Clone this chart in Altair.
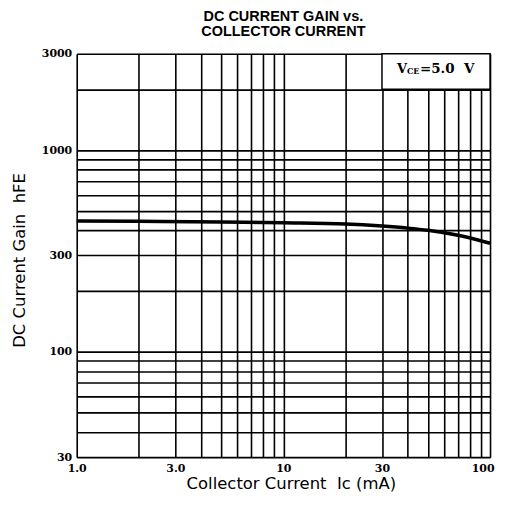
import altair as alt
import pandas as pd

# Curve data
ic_ma = [1.0, 2.0, 5.0, 10.0, 20.0, 30.0, 40.0, 50.0, 70.0, 100.0]
hfe = [445, 443, 440, 436, 430, 420, 410, 400, 378, 345]

# Grid / tick values
x_grid = [1, 2, 3, 4, 5, 6, 7, 8, 9, 10, 20, 30, 40, 50, 60, 70, 80, 90, 100]
y_grid = [30, 40, 50, 60, 70, 80, 90, 100, 200, 300, 400, 500, 600, 700, 800, 900,
          1000, 2000, 3000]
x_label_values = [1, 3, 10, 30, 100]
x_label_texts = ["1.0", "3.0", "10", "30", "100"]
y_label_values = [30, 100, 300, 1000, 3000]
y_label_texts = ["30", "100", "300", "1000", "3000"]

# Annotation box (data coordinates)
box_x = [30]
box_x2 = [100]
box_y = [2000]
box_y2 = [3000]
note_x = [35.5]
note_y = [2530]

NB = "\u00a0"


def label_expr(vals, texts):
    expr = "''"
    for v, t in reversed(list(zip(vals, texts))):
        expr = f"abs(datum.value - {v}) < 1e-6 ? '{t}' : ({expr})"
    return expr


xscale = alt.Scale(type="log", domain=[1, 100], nice=False)
yscale = alt.Scale(type="log", domain=[30, 3000], nice=False)

serif = "DejaVu Serif"
sans = "DejaVu Sans"

x_axis = alt.Axis(
    values=x_grid, labelExpr=label_expr(x_label_values, x_label_texts),
    title=f"Collector Current{NB} Ic (mA)", titleFont=sans, titleFontSize=16.5,
    titleFontWeight="normal", titleColor="black", titlePadding=2, titleX=215,
    labelFont=serif, labelFontWeight="bold", labelFontSize=11, labelColor="black",
    labelPadding=5, ticks=False, domain=False, grid=True, gridColor="black",
    gridWidth=1.6, gridOpacity=1, labelOverlap=False, labelFlush=False,
    labelAlign=alt.ExprRef("datum.value >= 99 ? 'right' : 'center'"),
    labelOffset=alt.ExprRef("datum.value >= 99 ? 4 : 0"),
)
y_axis = alt.Axis(
    values=y_grid, labelExpr=label_expr(y_label_values, y_label_texts),
    title=f"DC Current Gain{NB} hFE", titleFont=sans, titleFontSize=16.5,
    titleFontWeight="normal", titleColor="black", titlePadding=14, titleY=207,
    labelFont=serif, labelFontWeight="bold", labelFontSize=11, labelColor="black",
    labelPadding=5, ticks=False, domain=False, grid=True, gridColor="black",
    gridWidth=1.6, gridOpacity=1, labelOverlap=False, labelFlush=False,
)

curve_df = pd.DataFrame({"ic": ic_ma, "hfe": hfe})
curve = alt.Chart(curve_df).mark_line(
    color="black", strokeWidth=3.5, interpolate="monotone"
).encode(
    x=alt.X("ic:Q", scale=xscale, axis=x_axis),
    y=alt.Y("hfe:Q", scale=yscale, axis=y_axis),
)

box_df = pd.DataFrame({"x": box_x, "x2": box_x2, "y": box_y, "y2": box_y2})
box = alt.Chart(box_df).mark_rect(
    fill="white", stroke="black", strokeWidth=1.5
).encode(
    x=alt.X("x:Q", scale=xscale), x2="x2:Q",
    y=alt.Y("y:Q", scale=yscale), y2="y2:Q",
)

note_df = pd.DataFrame({"x": note_x, "y": note_y})
base_note = alt.Chart(note_df).encode(
    x=alt.X("x:Q", scale=xscale), y=alt.Y("y:Q", scale=yscale)
)
t_v = base_note.mark_text(
    text="V", font=serif, fontWeight="bold", fontSize=13, align="left",
    baseline="middle", color="black"
)
t_ce = base_note.mark_text(
    text="CE", font=serif, fontWeight="bold", fontSize=8, align="left",
    baseline="middle", color="black", dx=10, dy=3
)
t_val = base_note.mark_text(
    text=f"=5.0{NB}{NB}V", font=serif, fontWeight="bold", fontSize=13.5,
    align="left", baseline="middle", color="black", dx=23
)

chart = alt.layer(box, curve, t_v, t_ce, t_val).properties(
    width=415, height=405,
    title=alt.TitleParams(
        text=["DC CURRENT GAIN vs.", "COLLECTOR CURRENT"],
        font="Liberation Sans", fontSize=14.5, fontWeight="bold", color="black",
        anchor="middle", offset=8, lineHeight=15,
    ),
    padding={"left": 3, "top": 0, "right": 0, "bottom": 0},
).configure_view(
    stroke="black", strokeWidth=2.2
).configure(background="white")

chart.save("out.html", embed_options={"renderer": "svg", "actions": False})
